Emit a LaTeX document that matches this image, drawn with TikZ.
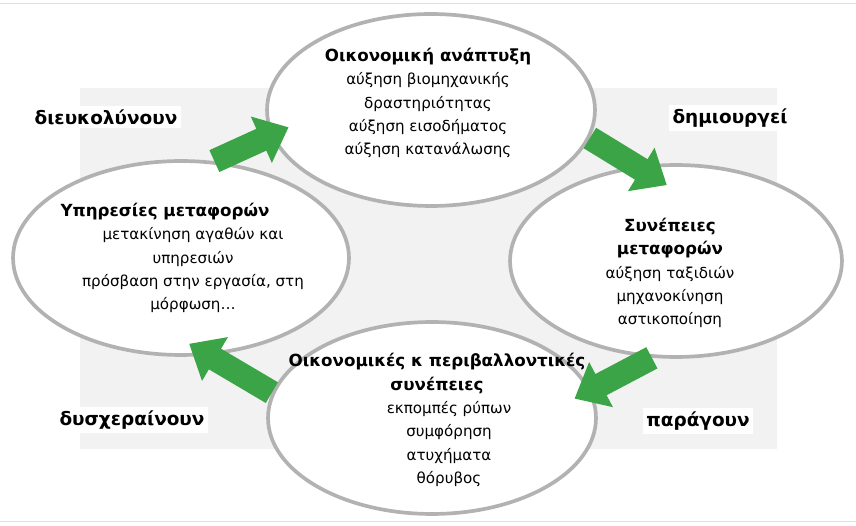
\documentclass[tikz,border=0pt]{standalone}
\usepackage{fontspec}
\setmainfont{DejaVu Sans}
\usetikzlibrary{shapes.geometric,arrows.meta}
\newcommand{\bubhead}[1]{{\fontsize{9.5}{13.3}\selectfont\bfseries #1}}

\begin{document}
\begin{tikzpicture}[x=0.02cm, y=-0.02cm]
  \definecolor{arrowgreen}{RGB}{58,164,70}
  \tikzset{
    bubble/.style={ellipse, draw=gray!60, line width=2.1pt, fill=white, inner sep=0pt},
    bubtext/.style={align=center, font=\fontsize{8.6}{13.3}\selectfont},
    verb/.style={font=\fontsize{10.5}{12}\selectfont\bfseries, fill=white, inner sep=2pt},
    flow/.style={arrowgreen, line width=0.48cm, -{Triangle[width=0.98cm,length=0.6cm]}}
  }
  \useasboundingbox (0,0) rectangle (856,526);
  \fill[gray!10] (80,88) rectangle (777,449);
  \draw[gray!25] (0,3) -- (856,3);
  \draw[gray!25] (0,521) -- (856,521);
  % the four ellipses
  \node[bubble, minimum width=6.56cm, minimum height=3.84cm] (econ) at (431,110) {};
  \node[bubble, minimum width=6.72cm, minimum height=3.88cm] (serv) at (181,258) {};
  \node[bubble, minimum width=6.64cm, minimum height=3.84cm] (cons) at (676,261) {};
  \node[bubble, minimum width=6.56cm, minimum height=3.84cm] (envi) at (432,418) {};
  % their texts
  \node[bubtext] (econtxt) at (428,103) {\bubhead{Οικονομική ανάπτυξη}\\αύξηση βιομηχανικής\\δραστηριότητας\\αύξηση εισοδήματος\\αύξηση κατανάλωσης};
  \node[bubtext] (servtxt) at (193,258) {\bubhead{Υπηρεσίες μεταφορών}\hspace*{1.12cm}\mbox{}\\μετακίνηση αγαθών και\\υπηρεσιών\\πρόσβαση στην εργασία, στη\\μόρφωση…};
  \node[bubtext] (constxt) at (670,273) {\bubhead{Συνέπειες}\\\bubhead{μεταφορών}\\αύξηση ταξιδιών\\μηχανοκίνηση\\αστικοποίηση};
  \node[bubtext] (envitxt) at (449,420) {\bubhead{Οικονομικές κ περιβαλλοντικές}\hspace*{0.48cm}\mbox{}\\\bubhead{συνέπειες}\hspace*{0.48cm}\mbox{}\\εκπομπές ρύπων\\συμφόρηση\\ατυχήματα\\θόρυβος};
  % verbs
  \node[verb] (ease) at (106,117) {διευκολύνουν};
  \node[verb] (create) at (730,118) {δημιουργεί};
  \node[verb] (hinder) at (132,420) {δυσχεραίνουν};
  \node[verb] (produce) at (698,421) {παράγουν};
  % green arrows
  \draw[flow, shorten >=-0.39cm] (serv.71) -- (econ.189);
  \draw[flow, shorten >=-0.73cm] (econ.350) -- (cons.113);
  \draw[flow, shorten >=-0.37cm] (cons.256) -- (envi.10);
  \draw[flow, shorten >=-0.46cm] (envi.171) -- (serv.286);
\end{tikzpicture}
\end{document}
